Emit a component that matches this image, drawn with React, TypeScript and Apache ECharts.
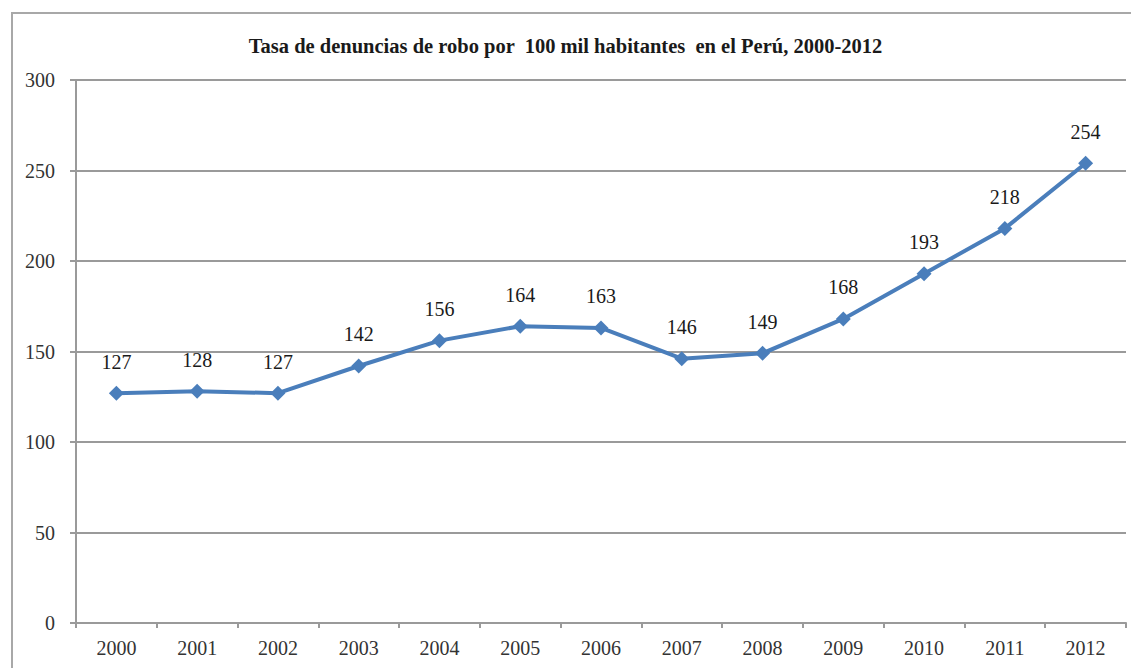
import React, { useEffect, useRef } from "react";
import * as echarts from "echarts";

const years = ["2000","2001","2002","2003","2004","2005","2006","2007","2008","2009","2010","2011","2012"];
const rates = [127,128,127,142,156,164,163,146,149,168,193,218,254];
const titleText = "Tasa de denuncias de robo por  100 mil habitantes  en el Perú, 2000-2012";

export default function App() {
  const ref = useRef<HTMLDivElement>(null);
  useEffect(() => {
    if (!ref.current) return;
    const chart = echarts.init(ref.current, null, { renderer: "svg" });
    const serif = "Liberation Serif";
    chart.setOption({
      animation: false,
      backgroundColor: "#ffffff",
      title: {
        text: titleText,
        left: "center",
        top: 30,
        textStyle: { fontFamily: serif, fontSize: 20.5, fontWeight: "bold", color: "#1a1a1a" },
      },
      graphic: [
        {
          type: "rect",
          shape: { x: 12, y: 13, width: 1140, height: 680 },
          style: { fill: "none", stroke: "#a8a8a8", lineWidth: 2 },
          silent: true,
        },
      ],
      grid: { left: 76, right: 5, top: 80, bottom: 45 },
      xAxis: {
        type: "category",
        data: years,
        boundaryGap: true,
        axisLine: { lineStyle: { color: "#9a9a9a", width: 2 } },
        axisTick: { show: true, length: 5, lineStyle: { color: "#9a9a9a", width: 2 } },
        axisLabel: { fontFamily: serif, fontSize: 20, color: "#333", margin: 15 },
      },
      yAxis: {
        type: "value",
        min: 0,
        max: 300,
        interval: 50,
        axisLine: { show: true, lineStyle: { color: "#9a9a9a", width: 2 } },
        axisTick: { show: true, length: 6, lineStyle: { color: "#9a9a9a", width: 2 } },
        axisLabel: { fontFamily: serif, fontSize: 20, color: "#333", margin: 21 },
        splitLine: { lineStyle: { color: "#9a9a9a", width: 2 } },
      },
      series: [
        {
          type: "line",
          data: rates,
          symbol: "diamond",
          symbolSize: 15,
          lineStyle: { color: "#4a7ebb", width: 4 },
          itemStyle: { color: "#4a7ebb" },
          label: {
            show: true,
            position: "top",
            distance: 14,
            fontFamily: serif,
            fontSize: 20,
            color: "#1a1a1a",
          },
        },
      ],
    });
    return () => chart.dispose();
  }, []);
  return (
    <div
      ref={ref}
      style={{ position: "fixed", left: 0, top: 0, width: 1131, height: 668 }}
    />
  );
}
